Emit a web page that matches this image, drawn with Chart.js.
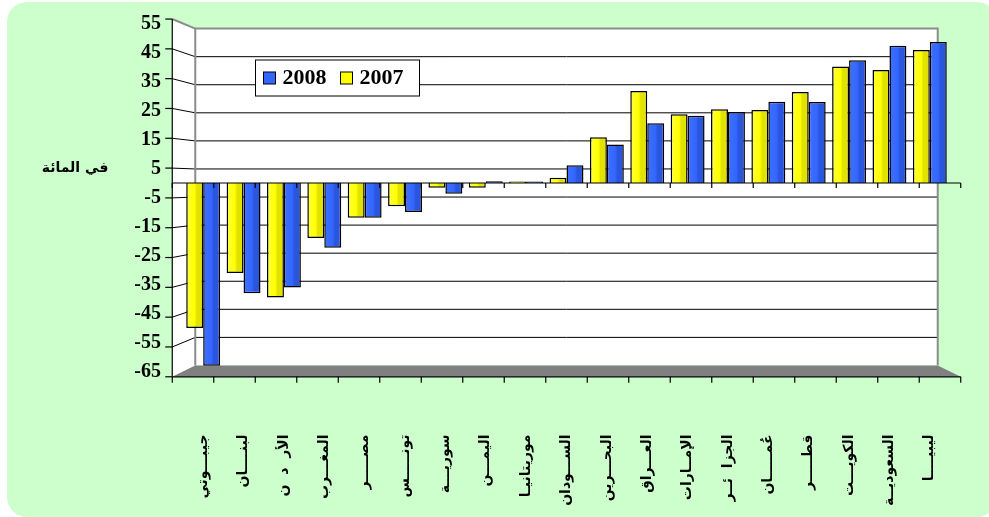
<!DOCTYPE html>
<html lang="ar">
<head>
<meta charset="utf-8">
<script src="https://cdn.jsdelivr.net/npm/chart.js@4/dist/chart.umd.min.js"></script>
<style>
  html, body { margin: 0; padding: 0; background: #fff; }
  #chart { display: block; }
</style>
</head>
<body>
<canvas id="chart" width="989" height="517"></canvas>
<script>
// values (percent)
const categories = ['جيبـــوتي', 'لبنــــان', 'الأر  د  ن', 'المغـــرب', 'مصـــــر', 'تونـــــس', 'سوريـــة',
  'اليمـــن', 'موريتانيـا', 'الســـودان', 'البحـــرين', 'العـــراق', 'الإمــارات', 'الجزا  ئــر',
  'عُمـــــان', 'قطـــــر', 'الكويـــت', 'السعوديــة', 'ليبيــــا'];
const values2007 = [-50, -31, -39.5, -19, -12, -8, -1.6, -1.6, 0.5, 1.8, 15.8, 31.7, 23.7, 25.4, 25.2, 31.4, 40.2, 39, 45.9];
const values2008 = [-63, -38, -36, -22.3, -12, -10, -3.7, 0.6, 0.5, 6.1, 13.3, 20.6, 23.2, 24.5, 28, 27.9, 42.3, 47.3, 48.6];
const seriesLabels = ['2007', '2008'];
const yTicks = [-65, -55, -45, -35, -25, -15, -5, 5, 15, 25, 35, 45, 55];
const yTitle = 'في المائة';

const FRONT = 1.028; // depth factor of the front edge
const BACK = 0.968;  // depth factor of the back wall

// fake 3D: push a point towards / away from the centre of the plot
function project(chart, x, y, k) {
  const { left, right } = chart.chartArea;
  const cx = (left + right) / 2;
  const cy = chart.scales.y.getPixelForValue(0);
  return [cx + (x - cx) * k, cy + (y - cy) * k];
}

function barGradient(light, mid, dark, fallback) {
  return (context) => {
    const chart = context.chart;
    const { ctx, chartArea } = chart;
    if (!chartArea) {
      return fallback;
    }
    const xs = chart.scales.x;
    const slot = xs.width / categories.length;
    const barW = slot * 0.84 / 2;
    const x0 = xs.getPixelForValue(context.dataIndex) - slot * 0.42 + context.datasetIndex * barW;
    const g = ctx.createLinearGradient(x0, 0, x0 + barW, 0);
    g.addColorStop(0, light);
    g.addColorStop(0.5, mid);
    g.addColorStop(0.62, dark);
    g.addColorStop(1, dark);
    return g;
  };
}

const backdrop = {
  id: 'backdrop',
  beforeDraw(chart) {
    const ctx = chart.ctx;
    ctx.save();
    ctx.fillStyle = '#ffffff';
    ctx.fillRect(0, 0, chart.width, chart.height);
    ctx.fillStyle = '#CCFFCC';
    ctx.beginPath();
    ctx.roundRect(7, 2, 990, 515, 20);
    ctx.fill();
    ctx.restore();
  }
};

const walls = {
  id: 'walls',
  beforeDatasetsDraw(chart) {
    const ctx = chart.ctx;
    const { left, right, top, bottom } = chart.chartArea;
    const ys = chart.scales.y;
    const xs = chart.scales.x;
    const P = (x, y, k) => project(chart, x, y, k);
    const poly = (pts) => {
      ctx.beginPath();
      ctx.moveTo(pts[0][0], pts[0][1]);
      for (let i = 1; i < pts.length; i++) ctx.lineTo(pts[i][0], pts[i][1]);
    };
    ctx.save();

    // side wall + back wall
    ctx.fillStyle = '#ffffff';
    poly([P(left, top, FRONT), P(left, top, BACK), P(left, bottom, BACK), P(left, bottom, FRONT)]);
    ctx.fill();
    const bt = P(left, top, BACK), bb = P(right, bottom, BACK);
    ctx.fillRect(bt[0], bt[1], bb[0] - bt[0], bb[1] - bt[1]);

    // grid
    ctx.strokeStyle = '#000000';
    ctx.lineWidth = 1;
    ys.ticks.forEach((t) => {
      if (t.value === ys.max || t.value === ys.min) return;
      const py = ys.getPixelForValue(t.value);
      const a = P(left, py, FRONT), b = P(left, py, BACK), c = P(right, py, BACK);
      poly([a, b, c]);
      ctx.stroke();
    });

    // floor
    ctx.fillStyle = '#808080';
    poly([P(left, bottom, BACK), P(right, bottom, BACK), P(right, bottom, FRONT), P(left, bottom, FRONT)]);
    ctx.fill();

    // wall borders
    ctx.strokeStyle = '#8c8c8c';
    ctx.lineWidth = 2;
    poly([P(left, bottom, BACK), P(left, top, BACK), P(right, top, BACK), P(right, bottom, BACK)]);
    ctx.stroke();
    poly([P(left, top, FRONT), P(left, top, BACK)]);
    ctx.stroke();

    // front value axis with ticks
    ctx.strokeStyle = '#000000';
    ctx.lineWidth = 1.2;
    poly([P(left, top, FRONT), P(left, bottom, FRONT)]);
    ctx.stroke();
    ys.ticks.forEach((t) => {
      const a = P(left, ys.getPixelForValue(t.value), FRONT);
      poly([[a[0] - 7, a[1]], a]);
      ctx.stroke();
    });

    // front floor edge with category ticks
    poly([P(left, bottom, FRONT), P(right, bottom, FRONT)]);
    ctx.stroke();
    for (let i = 0; i <= categories.length; i++) {
      const a = P(xs.getPixelForValue(i - 0.5), bottom, FRONT);
      poly([a, [a[0], a[1] + 6]]);
      ctx.stroke();
    }
    ctx.restore();
  },
  afterDatasetsDraw(chart) {
    // category axis crossing at zero
    const ctx = chart.ctx;
    const { left, right } = chart.chartArea;
    const xs = chart.scales.x;
    const zero = chart.scales.y.getPixelForValue(0);
    const P = (x, y, k) => project(chart, x, y, k);
    ctx.save();
    ctx.strokeStyle = '#000000';
    ctx.lineWidth = 1.2;
    const a = P(left, zero, FRONT), b = P(right, zero, FRONT);
    ctx.beginPath();
    ctx.moveTo(a[0], a[1]);
    ctx.lineTo(b[0], b[1]);
    for (let i = 0; i <= categories.length; i++) {
      const p = P(xs.getPixelForValue(i - 0.5), zero, FRONT);
      ctx.moveTo(p[0], p[1]);
      ctx.lineTo(p[0], p[1] + 5);
    }
    ctx.stroke();
    ctx.restore();
  }
};

const boxLegend = {
  id: 'boxLegend',
  afterDraw(chart) {
    const ctx = chart.ctx;
    const { left, top } = chart.chartArea;
    const x0 = left + 72, y0 = top + 36;
    ctx.save();
    ctx.fillStyle = '#ffffff';
    ctx.fillRect(x0, y0, 164, 36);
    ctx.strokeStyle = '#000000';
    ctx.lineWidth = 1;
    ctx.strokeRect(x0 + 0.5, y0 + 0.5, 164, 36);
    ctx.font = 'bold 22px "Liberation Serif", serif';
    ctx.textBaseline = 'alphabetic';
    ctx.textAlign = 'left';
    const order = chart.data.datasets.map((d, i) => i).reverse();
    order.forEach((dsIndex, n) => {
      const ds = chart.data.datasets[dsIndex];
      const sx = x0 + 8 + n * 77;
      ctx.fillStyle = ds.legendColor;
      ctx.fillRect(sx, y0 + 12.5, 12, 12);
      ctx.strokeRect(sx + 0.5, y0 + 12.5, 12, 12);
      ctx.fillStyle = '#000000';
      ctx.fillText(ds.label, sx + 19.5, y0 + 24.5);
    });

    // value axis title, written horizontally as in the original
    ctx.font = 'bold 14px "DejaVu Sans", sans-serif';
    ctx.textAlign = 'center';
    ctx.textBaseline = 'middle';
    ctx.fillText(yTitle, left - 108, chart.scales.y.getPixelForValue(5));
    ctx.restore();
  }
};

const ctx = document.getElementById('chart');

const bars = new Chart(ctx, {
  type: 'bar',
  data: {
    labels: categories,
    datasets: [{
      label: seriesLabels[0],
      data: values2007,
      legendColor: '#FFFF00',
      backgroundColor: barGradient('#FFFF40', '#FFFF00', '#E2E200', '#FFFF00'),
      borderColor: '#000000',
      borderWidth: 1.5,
      categoryPercentage: 0.84,
      barPercentage: 1.0
    }, {
      label: seriesLabels[1],
      data: values2008,
      legendColor: '#3366FF',
      backgroundColor: barGradient('#3D70FF', '#3366FF', '#2A55DD', '#3366FF'),
      borderColor: '#000000',
      borderWidth: 1.5,
      categoryPercentage: 0.84,
      barPercentage: 1.0
    }]
  },
  options: {
    responsive: false,
    animation: false,
    devicePixelRatio: 1,
    layout: {
      padding: { top: 23.5, right: 39, left: 0, bottom: 0 }
    },
    plugins: {
      legend: { display: false },
      tooltip: { enabled: false }
    },
    scales: {
      x: {
        // tick marks are drawn by the walls plugin; tickLength only pushes the labels down
        grid: { display: false, drawTicks: true, tickLength: 63 },
        border: { display: false },
        ticks: {
          autoSkip: false,
          minRotation: 90,
          maxRotation: 90,
          padding: 0,
          color: '#000000',
          font: { family: '"DejaVu Sans", sans-serif', size: 14, weight: 'bold' }
        },
        afterFit: (scale) => { scale.height = 517 - 371.5; }
      },
      y: {
        min: -65,
        max: 55,
        grid: { display: false, drawTicks: true, tickLength: 22 },
        border: { display: false },
        afterBuildTicks: (scale) => { scale.ticks = yTicks.map((v) => ({ value: v })); },
        ticks: {
          padding: 0,
          color: '#000000',
          font: { family: '"Liberation Serif", serif', size: 20, weight: 'bold' }
        },
        afterFit: (scale) => { scale.width = 183; }
      }
    }
  },
  plugins: [backdrop, walls, boxLegend]
});
</script>
</body>
</html>
